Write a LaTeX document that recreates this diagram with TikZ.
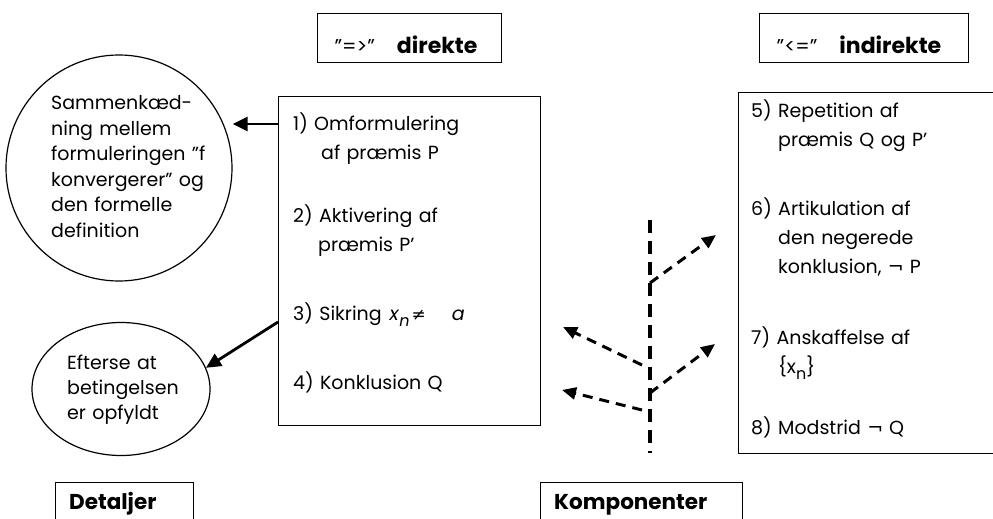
\documentclass[tikz,border=0pt]{standalone}
\usepackage{fontspec}
\setmainfont{Poppins}
\newfontfamily\symfont{DejaVu Sans}
\usetikzlibrary{arrows.meta,shapes.geometric}

\newcommand{\subidx}[1]{\raisebox{-6pt}{\fontsize{16}{16}\selectfont #1}}

\begin{document}
\begin{tikzpicture}[x=1pt,y=-1pt,
  frame/.style={draw, line width=1.3pt, inner sep=0pt, anchor=north west},
  outline/.style={draw, line width=1.2pt, inner sep=0pt},
  item/.style={font=\fontsize{19}{29}\selectfont, inner sep=0pt, anchor=base west, text width=230pt, align=left},
  bubbletext/.style={font=\fontsize{19}{25.4}\selectfont, inner sep=0pt, anchor=base west, text width=200pt, align=left},
  headtext/.style={font=\fontsize{20}{23}\selectfont, inner sep=0pt, anchor=base},
  labeltext/.style={font=\fontsize{21.5}{23}\selectfont\bfseries, inner sep=0pt, anchor=base west},
  solidarrow/.style={line width=2.8pt, -{Triangle[length=15pt,width=14pt]}},
  dasharrow/.style={line width=3pt, dash pattern=on 10pt off 7pt, -{Triangle[length=14pt,width=12pt]}},
  trunkline/.style={line width=3.5pt, dash pattern=on 13pt off 8pt}
]
\useasboundingbox (0,0) rectangle (993,519);
\clip (0,0) rectangle (993,519);

% header boxes
\node[frame, minimum width=184pt, minimum height=49pt] (hdir) at (317,13) {};
\node[headtext] (tdir) at (406,53) {”=>”\hspace{22pt}{\fontsize{22}{23}\selectfont\bfseries direkte}};
\node[frame, minimum width=209pt, minimum height=49pt] (hind) at (759,13) {};
\node[headtext] (tind) at (859,53) {”<=”\hspace{22pt}{\fontsize{22}{23}\selectfont\bfseries indirekte}};

% left column: detail bubbles
\node[outline, circle, minimum size=226pt] (circ) at (119,168) {};
\node[bubbletext] (ctext) at (51,110) {Sammenkæd-\\ning mellem\\formuleringen ”f\\konvergerer” og\\den formelle\\definition};
\node[outline, ellipse, minimum width=178pt, minimum height=133pt] (ell) at (121,389) {};
\node[bubbletext] (etext) at (67,369) {Efterse at\\betingelsen\\er opfyldt};

% direct proof box
\node[frame, minimum width=262pt, minimum height=329pt] (lbox) at (278,96) {};
\node[item] (i1) at (293,130) {1) Omformulering\\\hspace*{28pt}af præmis P};
\node[item] (i2) at (293,222) {2) Aktivering af\\\hspace*{25pt}præmis P’};
\node[item] (i3) at (293,320) {3) Sikring\hspace{8pt}\textit{x}\subidx{\textit{n}}\hspace{2pt}{\symfont\fontsize{17}{17}\selectfont ≠}\hspace{26pt}\textit{a}};
\node[item] (i4) at (293,389) {4) Konklusion Q};

% indirect proof box
\node[frame, minimum width=270pt, minimum height=361pt] (rbox) at (738,92) {};
\node[item] (i5) at (751,117) {5) Repetition af\\\hspace*{27pt}præmis Q og P’};
\node[item] (i6) at (751,215) {6) Artikulation af\\\hspace*{27pt}den negerede\\\hspace*{27pt}konklusion, {\symfont ¬}\hspace{6pt}P};
\node[item] (i7) at (751,344) {7) Anskaffelse af\\\hspace*{27pt}\{x\subidx{n}\}};
\node[item] (i8) at (751,434) {8) Modstrid {\symfont ¬}\hspace{6pt}Q};

% bottom labels
\node[frame, minimum width=138pt, minimum height=60pt] (bdet) at (55,482) {};
\node[labeltext] (tdet) at (69,509) {Detaljer};
\node[frame, minimum width=202pt, minimum height=60pt] (bkomp) at (540,482) {};
\node[labeltext] (tkomp) at (554,509) {Komponenter};

% solid arrows to the bubbles
\coordinate (a1) at (0,124);
\coordinate (a3) at (0,322);
\draw[solidarrow] (lbox.west |- a1) -- (circ.east |- a1);
\draw[solidarrow] (lbox.west |- a3) -- (ell.14);

% dashed trunk with branches
\coordinate (ttop) at (650,220);
\coordinate (tbot) at (650,453);
\draw[trunkline] (ttop) -- (tbot);
\coordinate (r1s) at (650,283);
\coordinate (r1e) at (716,235);
\coordinate (r2s) at (650,393);
\coordinate (r2e) at (715,344);
\coordinate (l1s) at (642,365);
\coordinate (l1e) at (563,327);
\coordinate (l2s) at (642,410);
\coordinate (l2e) at (562,390);
\draw[dasharrow] (r1s) -- (r1e);
\draw[dasharrow] (r2s) -- (r2e);
\draw[dasharrow] (l1s) -- (l1e);
\draw[dasharrow] (l2s) -- (l2e);
\end{tikzpicture}
\end{document}
